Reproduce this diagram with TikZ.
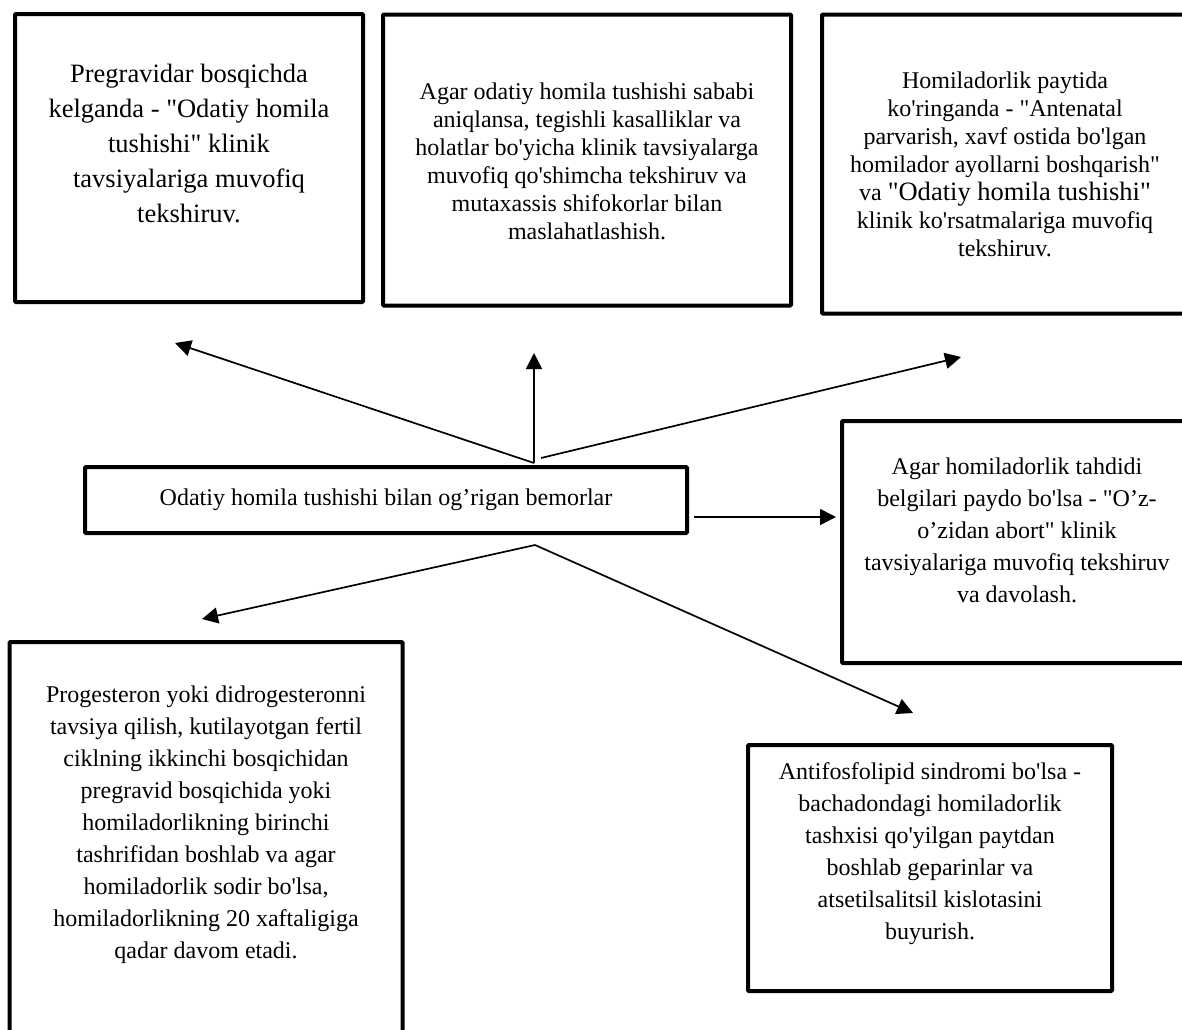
\documentclass[tikz,border=0pt]{standalone}
\usepackage{fontspec}
\setmainfont{Liberation Serif}[Ligatures=TeXOff]
\usetikzlibrary{arrows.meta}
\tikzset{
  box/.style={draw, line width=4pt, rounded corners=1pt, inner sep=0pt},
  txt/.style={align=center, inner sep=0pt, font=\fontsize{24}{32}\selectfont},
  arr/.style={-{Triangle[length=16pt,width=16pt]}, line width=1.7pt},
}
\begin{document}
\begin{tikzpicture}[x=1pt,y=-1pt]
\useasboundingbox (0,0) rectangle (1182,1029);
\clip (0,0) rectangle (1182,1029);
\node[box, minimum width=348pt, minimum height=288pt] (pre) at (189,158) {};
\node[txt, font=\fontsize{26.5}{35}\selectfont] (pret) at (189,143) {Pregravidar bosqichda\\kelganda - "Odatiy homila\\tushishi" klinik\\tavsiyalariga muvofiq\\tekshiruv.};
\node[box, minimum width=408pt, minimum height=291pt] (cau) at (587,160) {};
\node[txt, font=\fontsize{24}{28}\selectfont] (caut) at (587,161) {Agar odatiy homila tushishi sababi\\aniqlansa, tegishli kasalliklar va\\holatlar bo'yicha klinik tavsiyalarga\\muvofiq qo'shimcha tekshiruv va\\mutaxassis shifokorlar bilan\\maslahatlashish.};
\node[box, minimum width=368pt, minimum height=299pt] (ant) at (1006,164) {};
\node[txt, font=\fontsize{24}{28}\selectfont] (antt) at (1005,164) {Homiladorlik paytida\\ko'ringanda - "Antenatal\\parvarish, xavf ostida bo'lgan\\homilador ayollarni boshqarish"\\va {\fontsize{26.5}{28}\selectfont "Odatiy homila tushishi"}\\klinik ko'rsatmalariga muvofiq\\tekshiruv.};
\node[box, txt, minimum width=602pt, minimum height=66pt] (pat) at (386,500) {Odatiy homila tushishi bilan og’rigan bemorlar};
\node[box, minimum width=350pt, minimum height=242pt] (abt) at (1017,542) {};
\node[txt] (abtt) at (1017,530) {Agar homiladorlik tahdidi\\belgilari paydo bo'lsa - "O’z-\\o’zidan abort" klinik\\tavsiyalariga muvofiq tekshiruv\\va davolash.};
\node[box, minimum width=393pt, minimum height=402pt] (prg) at (206,843) {};
\node[txt] (prgt) at (206,825) {Progesteron yoki didrogesteronni\\tavsiya qilish, kutilayotgan fertil\\ciklning ikkinchi bosqichidan\\pregravid bosqichida yoki\\homiladorlikning birinchi\\tashrifidan boshlab va agar\\homiladorlik sodir bo'lsa,\\homiladorlikning 20 xaftaligiga\\qadar davom etadi.};
\node[box, minimum width=364pt, minimum height=246pt] (aps) at (930,868) {};
\node[txt] (apst) at (930,854) {Antifosfolipid sindromi bo'lsa -\\bachadondagi homiladorlik\\tashxisi qo'yilgan paytdan\\boshlab geparinlar va\\atsetilsalitsil kislotasini\\buyurish.};
\coordinate (up) at (534,463);
\coordinate (upr) at (541,458);
\coordinate (dn) at (535,545);
\coordinate (t1) at (175,343);
\coordinate (t2) at (534,353);
\coordinate (t3) at (961,357);
\coordinate (t4) at (202,619);
\coordinate (t5) at (913,713);
\draw[arr] (up) -- (t1);
\draw[arr] (up) -- (t2);
\draw[arr] (upr) -- (t3);
\draw[arr] (dn) -- (t4);
\draw[arr] (dn) -- (t5);
\draw[arr, shorten <=5pt, shorten >=4pt] ([yshift=-17pt]pat.east) -- ([yshift=-17pt]pat.east -| abt.west);
\end{tikzpicture}
\end{document}
